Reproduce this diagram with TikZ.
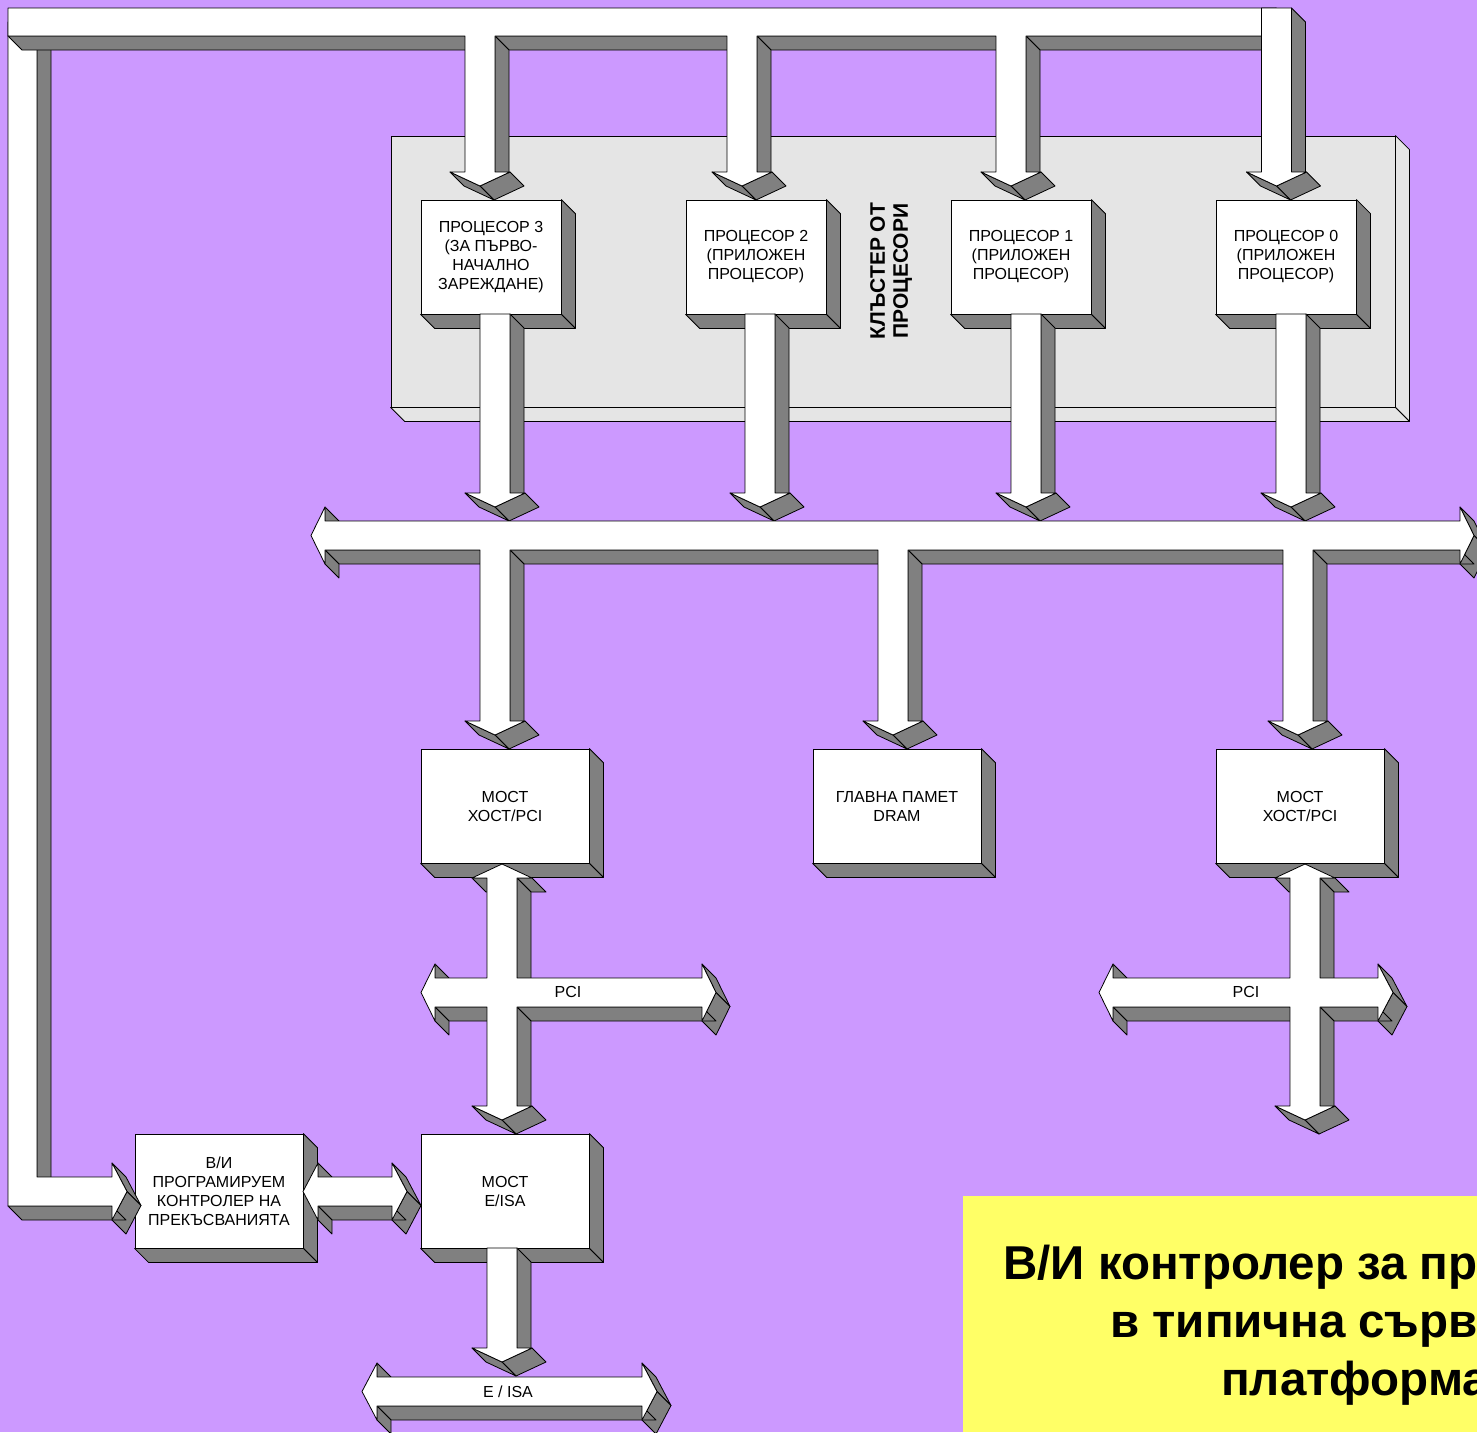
\documentclass[tikz,border=0pt]{standalone}
\usepackage{fontspec}
\setmainfont{Liberation Sans}
\usetikzlibrary{calc}

\definecolor{lilac}{HTML}{CC99FF}
\definecolor{lemon}{HTML}{FFFF66}
\definecolor{panel}{HTML}{E5E5E5}

\newcommand{\dep}{14}
\newcommand{\boxfont}{\fontsize{16}{19}\selectfont}
\newcommand{\titlefont}{\bfseries\fontsize{47.5}{58}\selectfont}

\tikzset{
	face/.style={draw=black, fill=white, line width=0.8pt, line join=round},
	side/.style={draw=black, fill=black!50, line width=0.8pt, line join=round},
	pside/.style={draw=black, fill=panel, line width=0.8pt, line join=round},
	unit/.style={draw=black, fill=white, line width=0.8pt, minimum width=168pt, minimum height=114pt, inner sep=0pt, align=center, font=\boxfont},
	cpu/.style={unit, minimum width=140pt},
	lbl/.style={inner sep=0pt, font=\boxfont}
}

% right and bottom faces of a node
\newcommand{\sides}[2][side]{%
	\filldraw[#1] (#2.north east) -- ++(\dep,\dep) -- ([shift={(\dep,\dep)}]#2.south east) -- (#2.south east) -- cycle;
	\filldraw[#1] (#2.south west) -- ++(\dep,\dep) -- ([shift={(\dep,\dep)}]#2.south east) -- (#2.south east) -- cycle;}

% extruded outline: start x, start y, the other corners (clockwise, back to the start)
\newcommand{\solid}[3]{%
	\foreach \x/\y [remember=\x as \px (initially #1), remember=\y as \py (initially #2)] in {#3}{%
		\pgfmathtruncatemacro{\vis}{((\y-\py)-(\x-\px))>0}%
		\ifnum\vis=1
			\filldraw[side] (\px,\py) -- (\x,\y) -- (\x+\dep,\y+\dep) -- (\px+\dep,\py+\dep) -- cycle;
		\fi}%
	\filldraw[face] (#1,#2) \foreach \x/\y in {#3}{ -- (\x,\y)} -- cycle;}

% arrow pointing down: centre x, top y, y of the barbs
\newcommand{\downarr}[3]{%
	\pgfmathsetmacro{\al}{#1-15}\pgfmathsetmacro{\ar}{#1+15}%
	\pgfmathsetmacro{\wl}{#1-30}\pgfmathsetmacro{\wr}{#1+30}%
	\pgfmathsetmacro{\tp}{#3+14}%
	\solid{\al}{#2}{\ar/#2, \ar/#3, \wr/#3, #1/\tp, \wl/#3, \al/#3, \al/#2}}

% arrow with two heads: left tip x, right tip x, top y, bottom y
\newcommand{\hdouble}[4]{%
	\pgfmathsetmacro{\hl}{#1+15}\pgfmathsetmacro{\hr}{#2-15}%
	\pgfmathsetmacro{\ym}{(#3+#4)/2}%
	\pgfmathsetmacro{\wt}{#3-14}\pgfmathsetmacro{\wb}{#4+14}%
	\solid{#1}{\ym}{\hl/\wt, \hl/#3, \hr/#3, \hr/\wt, #2/\ym, \hr/\wb, \hr/#4, \hl/#4, \hl/\wb, #1/\ym}}

\begin{document}
\begin{tikzpicture}[x=1pt, y=-1pt]
	\useasboundingbox (0,0) rectangle (1477,1432);
	\fill[lilac] (0,0) rectangle (1477,1432);

	\node[draw, fill=panel, line width=0.8pt, minimum width=1004pt, minimum height=271pt, inner sep=0pt] (cluster) at (893,271.5) {};
	\sides[pside]{cluster}
	\node[rotate=90, align=center, inner sep=0pt, font=\bfseries\fontsize{21}{23}\selectfont] (clusterlbl) at (891,271) {КЛЪСТЕР ОТ\\ПРОЦЕСОРИ};

	\node[cpu] (cpu3) at (491,257) {ПРОЦЕСОР 3\\(ЗА ПЪРВО-\\НАЧАЛНО\\ЗАРЕЖДАНЕ)};
	\node[cpu] (cpu2) at (756,257) {ПРОЦЕСОР 2\\(ПРИЛОЖЕН\\ПРОЦЕСОР)};
	\node[cpu] (cpu1) at (1021,257) {ПРОЦЕСОР 1\\(ПРИЛОЖЕН\\ПРОЦЕСОР)};
	\node[cpu] (cpu0) at (1286,257) {ПРОЦЕСОР 0\\(ПРИЛОЖЕН\\ПРОЦЕСОР)};
	\foreach \n in {cpu3,cpu2,cpu1,cpu0} {\sides{\n}}

	\node[unit] (hostl) at (505,806) {МОСТ\\ХОСТ/PCI};
	\node[unit] (dram) at (897,806) {ГЛАВНА ПАМЕТ\\DRAM};
	\node[unit] (hostr) at (1300,806) {МОСТ\\ХОСТ/PCI};
	\node[unit] (pic) at (219,1191) {В/И\\ПРОГРАМИРУЕМ\\КОНТРОЛЕР НА\\ПРЕКЪСВАНИЯТА};
	\node[unit] (eisa) at (505,1191) {МОСТ\\E/ISA};
	\foreach \n in {hostl,dram,hostr,pic,eisa} {\sides{\n}}

	% interrupt line: left bar and head into the controller
	\solid{8}{22}{37/22, 37/1177, 112/1177, 112/1163, 127/1191.5, 112/1220, 112/1206, 8/1206, 8/22}
	% top bar with the drops to the processors
	\solid{8}{8}{1276/8, 1276/36,
		1026/36, 1026/172, 1041/172, 1011/186, 981/172, 996/172, 996/36,
		757/36, 757/172, 772/172, 742/186, 712/172, 727/172, 727/36,
		495/36, 495/172, 510/172, 480/186, 450/172, 465/172, 465/36,
		8/36, 8/8}
	\downarr{1276.5}{8}{172}

	\foreach \c in {495,760,1026,1291} {\downarr{\c}{314}{493}}

	% host bus
	\solid{311}{535.5}{325/507, 325/521, 1460/521, 1460/507, 1474/535.5, 1460/564, 1460/550,
		1313/550, 1313/721, 1328/721, 1298/735, 1268/721, 1283/721, 1283/550,
		908/550, 908/721, 923/721, 893/735, 863/721, 878/721, 878/550,
		510/550, 510/721, 525/721, 495/735, 465/721, 480/721, 480/550,
		325/550, 325/564, 311/535.5}

	% PCI crosses
	\solid{502}{864}{532/878, 517/878, 517/978, 702/978, 702/964, 716/992.5, 702/1021, 702/1007,
		517/1007, 517/1106, 532/1106, 502/1120, 472/1106, 487/1106, 487/1007,
		435/1007, 435/1021, 421/992.5, 435/964, 435/978, 487/978, 487/878, 472/878, 502/864}
	\solid{1305}{864}{1335/878, 1320/878, 1320/978, 1378/978, 1378/964, 1393/992.5, 1378/1021, 1378/1007,
		1320/1007, 1320/1106, 1335/1106, 1305/1120, 1275/1106, 1290/1106, 1290/1007,
		1113/1007, 1113/1021, 1099/992.5, 1113/964, 1113/978, 1290/978, 1290/878, 1275/878, 1305/864}
	\node[lbl] (pcil) at (568,992) {PCI};
	\node[lbl] (pcir) at (1246,992) {PCI};

	\downarr{502}{1248}{1348}
	\hdouble{362}{657}{1377}{1406}
	\node[lbl] (isalbl) at (508,1392) {E / ISA};
	\hdouble{303}{407}{1177}{1206}

	\fill[lemon] (963,1196) rectangle (1477,1432);
	\node[anchor=base west, inner sep=0pt, font=\titlefont] (title1) at (1003,1279) {В/И контролер за пр};
	\node[anchor=base west, inner sep=0pt, font=\titlefont] (title2) at (1110,1337) {в типична сърв};
	\node[anchor=base west, inner sep=0pt, font=\titlefont] (title3) at (1221,1395) {платформа};
\end{tikzpicture}
\end{document}
